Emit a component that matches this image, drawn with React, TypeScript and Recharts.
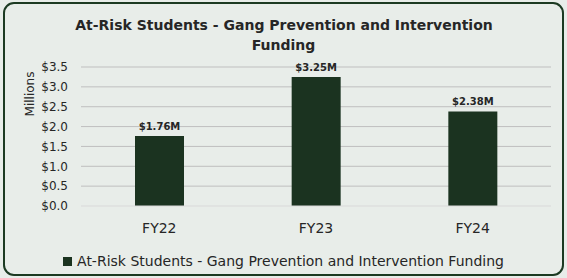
import React from 'react';
import { BarChart, Bar, XAxis, YAxis, CartesianGrid, Legend, LabelList, Label } from 'recharts';

const categories = ['FY22', 'FY23', 'FY24'];
const fundingValues = [1.76, 3.25, 2.38];
const valueLabels = ['$1.76M', '$3.25M', '$2.38M'];
const yTicks = [0, 0.5, 1, 1.5, 2, 2.5, 3, 3.5];
const seriesName = 'At-Risk Students - Gang Prevention and Intervention Funding';
const titleLines = ['At-Risk Students - Gang Prevention and Intervention', 'Funding'];

const data = categories.map((c, i) => ({ name: c, value: fundingValues[i], label: valueLabels[i] }));

const FONT = '"DejaVu Sans", Verdana, sans-serif';
const BAR = '#1b3320';
const BG = '#e8ede9';
const TEXT = '#262626';

const LegendContent = () => (
  <div style={{ display: 'flex', justifyContent: 'center', alignItems: 'center', fontFamily: FONT, fontSize: 14, color: TEXT }}>
    <span style={{ display: 'inline-block', width: 9, height: 9, background: BAR, marginRight: 5 }} />
    <span>{seriesName}</span>
  </div>
);

export default function App() {
  return (
    <div style={{ position: 'absolute', left: 0, top: 0, width: 567, height: 278, background: BG }}>
      <div style={{ position: 'absolute', left: 3, top: 2, width: 561, height: 274, boxSizing: 'border-box', border: '2px solid #1c3a22', borderRadius: 11 }} />
      <div style={{ position: 'absolute', left: 0, top: 15, width: 567, textAlign: 'center', fontFamily: FONT, fontWeight: 'bold', fontSize: 14, lineHeight: '20px', color: TEXT }}>
        <div style={{ paddingLeft: 1 }}>{titleLines[0]}</div>
        <div>{titleLines[1]}</div>
      </div>
      <div style={{ position: 'absolute', left: 0, top: 0 }}>
        <BarChart width={567} height={278} data={data} margin={{ top: 67, right: 16, left: 0, bottom: 16 }}>
          <CartesianGrid vertical={false} stroke="#bfbfbf" horizontalValues={[0.5, 1, 1.5, 2, 2.5, 3, 3.5]} />
          <XAxis dataKey="name" height={38} tickLine={false} tickSize={0} tickMargin={17} axisLine={{ stroke: '#d9d9d9' }}
            tick={{ fill: TEXT, fontFamily: FONT, fontSize: 14 }} />
          <YAxis width={81} domain={[0, 3.5]} ticks={yTicks} interval={0} tickLine={false} axisLine={false} tickSize={0} tickMargin={13}
            tickFormatter={(v: number) => `$${v.toFixed(1)}`} tick={{ fill: TEXT, fontFamily: FONT, fontSize: 12 }}>
            <Label content={({ viewBox }: any) => (
              <text x={viewBox.x + 34} y={94} transform={`rotate(-90, ${viewBox.x + 34}, 94)`} textAnchor="middle" fill={TEXT} fontFamily={FONT} fontSize={12}>Millions</text>
            )} />
          </YAxis>
          <Legend verticalAlign="bottom" content={<LegendContent />} wrapperStyle={{ position: 'absolute', top: 253, left: 0, width: 567, height: 18 }} />
          <Bar dataKey="value" name={seriesName} fill={BAR} barSize={49} isAnimationActive={false}>
            <LabelList dataKey="label" position="top" offset={6} fill={TEXT} fontFamily={FONT} fontSize={10} fontWeight="bold" />
          </Bar>
        </BarChart>
      </div>
    </div>
  );
}
